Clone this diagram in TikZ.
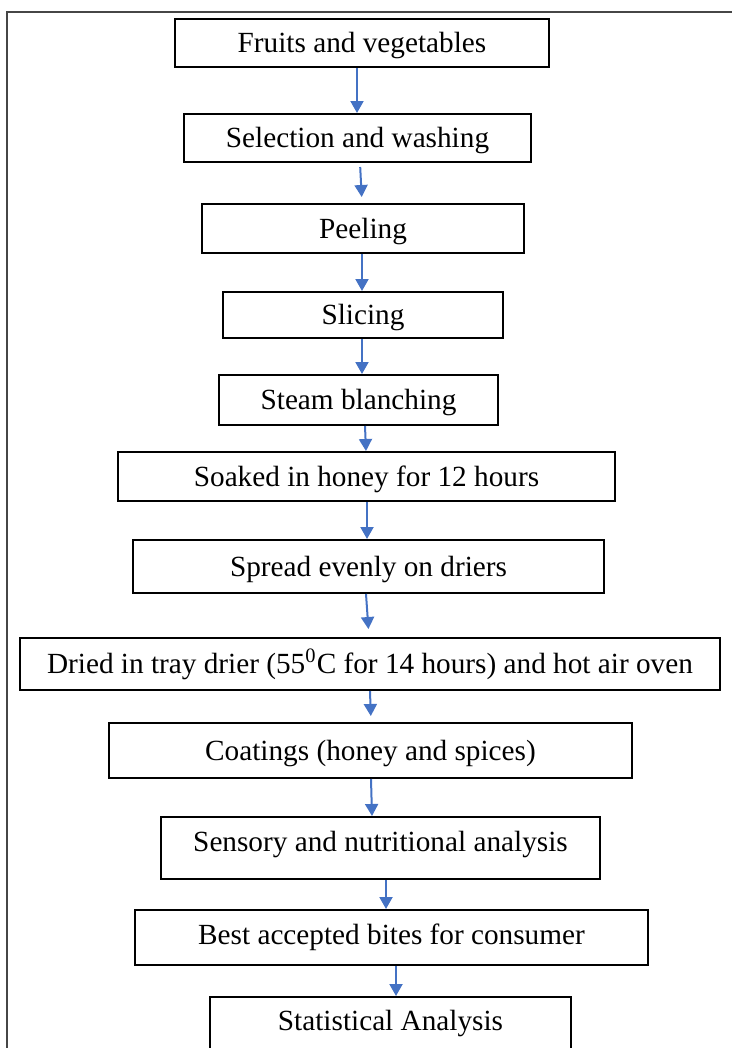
\documentclass[tikz,border=0pt]{standalone}
\usepackage{fontspec}
\setmainfont{Liberation Serif}
\definecolor{arrowblue}{RGB}{68, 114, 196}
\definecolor{framegray}{RGB}{70, 70, 70}
\usetikzlibrary{arrows.meta}

\begin{document}
\begin{tikzpicture}[x=0.4pt, y=-0.4pt,
  stepbox/.style={draw=black, line width=0.8pt, rectangle, inner sep=0pt, font=\fontsize{11.7}{14}\selectfont, text height=7.8pt, text depth=0pt},
  flow/.style={draw=arrowblue, line width=0.8pt, -{Triangle[width=5.2pt, length=4.8pt]}},
  lift/.style={text depth=#1}]
  \path[use as bounding box, clip] (0, 0) rectangle (732, 1048);

  % Page frame
  \draw[framegray, line width=0.5pt] (7, 1048) -- (7, 12) -- (732, 12);

  % Process steps
  \node[stepbox, minimum width=149.6pt, minimum height=19.2pt] (fruits) at (362, 43) {Fruits and vegetables};
  \node[stepbox, minimum width=138.8pt, minimum height=19.2pt] (select) at (357.5, 138) {Selection and washing};
  \node[stepbox, minimum width=128.8pt, minimum height=19.6pt] (peel) at (363, 228.5) {Peeling};
  \node[stepbox, minimum width=112pt, minimum height=18.4pt] (slice) at (363, 315) {Slicing};
  \node[stepbox, minimum width=111.6pt, minimum height=20pt] (steam) at (358.5, 400) {Steam blanching};
  \node[stepbox, minimum width=198.8pt, minimum height=19.6pt] (soak) at (366.5, 476.5) {Soaked in honey for 12 hours};
  \node[stepbox, minimum width=188.4pt, minimum height=21.2pt] (spread) at (368.5, 566.5) {Spread evenly on driers};
  \node[stepbox, minimum width=280pt, minimum height=20.8pt] (dried) at (370, 664) {Dried in tray drier (55\textsuperscript{0}C for 14 hours) and hot air oven};
  \node[stepbox, minimum width=209.2pt, minimum height=22pt] (coat) at (370.5, 750.5) {Coatings (honey and spices)};
  \node[stepbox, lift=5.2pt, minimum width=175.6pt, minimum height=24.8pt] (sensory) at (380.5, 848) {Sensory and nutritional analysis};
  \node[stepbox, lift=2.4pt, minimum width=205.2pt, minimum height=22pt] (best) at (391.5, 937.5) {Best accepted bites for consumer};
  \node[stepbox, lift=4.8pt, minimum width=144.4pt, minimum height=24pt] (stat) at (390.5, 1027) {Statistical Analysis};

  % Arrows
  \draw[flow] (fruits.south -| 357,0) -- (select.north -| 357,0);
  \draw[flow, shorten <=1.6pt, shorten >=2.4pt] (select.south -| 360,0) -- (peel.north -| 362,0);
  \draw[flow] (peel.south -| 362,0) -- (slice.north -| 362,0);
  \draw[flow] (slice.south -| 362,0) -- (steam.north -| 362,0);
  \draw[flow] (steam.south -| 365,0) -- (soak.north -| 366,0);
  \draw[flow] (soak.south -| 367,0) -- (spread.north -| 367,0);
  \draw[flow, shorten >=3.2pt] (spread.south -| 366,0) -- (dried.north -| 369,0);
  \draw[flow, shorten >=2.4pt] (dried.south -| 370,0) -- (coat.north -| 371,0);
  \draw[flow] (coat.south -| 371,0) -- (sensory.north -| 372,0);
  \draw[flow] (sensory.south -| 386,0) -- (best.north -| 386,0);
  \draw[flow] (best.south -| 396,0) -- (stat.north -| 396,0);
\end{tikzpicture}
\end{document}
